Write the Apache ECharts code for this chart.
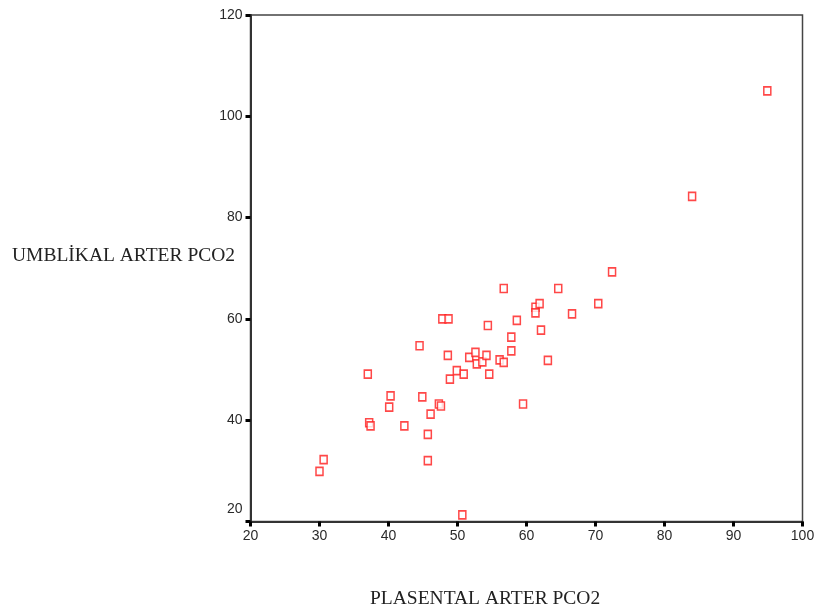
<!DOCTYPE html>
<html>
<head>
<meta charset="utf-8">
<script src="https://cdn.jsdelivr.net/npm/echarts@6/dist/echarts.min.js"></script>
<style>
html,body{margin:0;padding:0;background:#fff;}
#chart{width:822px;height:614px;}
</style>
</head>
<body>
<div id="chart"></div>
<script>
var plasentalX = [30.0,30.6,37.0,37.2,37.4,40.3,40.1,42.3,44.5,44.9,46.1,45.7,45.7,47.3,47.6,47.8,48.7,48.6,48.9,49.9,50.9,50.7,51.7,52.6,52.8,53.6,54.2,54.4,54.6,56.1,56.7,56.7,57.8,57.8,58.6,59.5,61.3,61.3,61.9,62.1,63.1,64.6,66.6,70.4,72.4,84.0,94.9];
var umblikalY  = [29.9,32.2,49.1,39.5,38.9,44.8,42.6,38.9,54.7,44.6,41.2,37.2,32.0,43.2,42.8,60.0,60.0,52.8,48.1,49.8,49.1,21.3,52.4,53.4,51.1,51.5,52.8,58.7,49.1,51.9,51.4,66.0,56.4,53.7,59.7,43.2,62.3,61.2,63.0,57.8,51.8,66.0,61.0,63.0,69.3,84.2,105.0];
var xTicks = [20,30,40,50,60,70,80,90,100];
var yTicks = [20,40,60,80,100,120];
var xTitle = 'PLASENTAL ARTER PCO2';
var yTitle = 'UMBLİKAL ARTER PCO2';

var points = plasentalX.map(function(v,i){ return [v, umblikalY[i]]; });

var chart = echarts.init(document.getElementById('chart'), null, {renderer:'canvas'});
var axisLabelStyle = {color:'#2a2a2a', fontFamily:'Liberation Sans, Arial, sans-serif', fontSize:14};
chart.setOption({
  backgroundColor:'#fff',
  animation:false,
  grid:{left:250.5, right:19.5, top:15, bottom:92.5, show:true, borderColor:'#444', borderWidth:1.5, backgroundColor:'transparent'},
  graphic:[
    {type:'text', style:{text:xTitle, fill:'#222', font:'19.5px "Liberation Serif", "Times New Roman", serif'}, top:589, left:370},
    {type:'text', style:{text:yTitle, fill:'#222', font:'19.5px "Liberation Serif", "Times New Roman", serif'}, top:246, left:12}
  ],
  xAxis:{
    type:'value', min:20, max:100, interval:10,
    axisLine:{show:true, onZero:false, lineStyle:{color:'#333', width:2}},
    axisTick:{show:true, length:5, inside:false, lineStyle:{color:'#000', width:3}},
    splitLine:{show:false},
    axisLabel:Object.assign({margin:8, formatter:function(v){return xTicks.indexOf(v)>=0?String(v):'';}}, axisLabelStyle)
  },
  yAxis:{
    type:'value', min:20, max:120, interval:20,
    axisLine:{show:true, onZero:false, lineStyle:{color:'#333', width:2}},
    axisTick:{show:true, length:5, inside:false, lineStyle:{color:'#000', width:3}},
    splitLine:{show:false},
    axisLabel:Object.assign({margin:8,
      formatter:function(v){
        if (yTicks.indexOf(v) < 0) return '';
        return v === yTicks[0] ? '{low|' + v + '}' : String(v);
      },
      rich:{low:{fontSize:14, fontFamily:'Liberation Sans, Arial, sans-serif', color:'#2a2a2a', padding:[0,0,24,0]}}
    }, axisLabelStyle)
  },
  series:[{
    type:'scatter',
    data:points,
    symbol:'rect',
    symbolSize:[7,8],
    itemStyle:{color:'#fff', borderColor:'#ff1a1a', borderWidth:1.6}
  }]
});
</script>
</body>
</html>
